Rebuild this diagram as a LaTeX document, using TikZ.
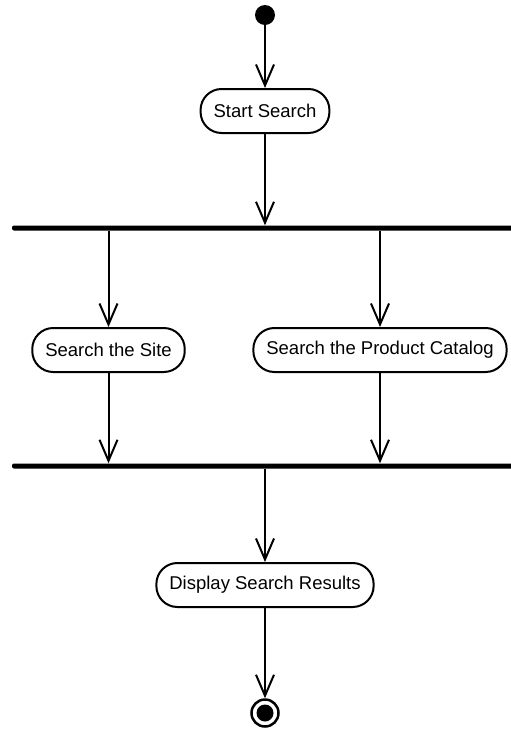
\documentclass[tikz,border=0pt]{standalone}
\usepackage{fontspec}
\setmainfont{Liberation Sans}
\usepackage{tikz}
\usetikzlibrary{arrows.meta, positioning}

\tikzset{
  activity/.style={draw, line width=2pt, rounded corners=21pt, minimum height=44pt,
    inner xsep=13pt, font=\fontsize{18.5}{22}\selectfont},
  syncbar/.style={fill=black, inner sep=0pt, minimum height=5pt, rounded corners=2pt},
  flow/.style={line width=2pt, -{Straight Barb[length=21pt, width=18pt, line width=2pt]}}
}

\begin{document}
\begin{tikzpicture}[x=1pt, y=-1pt]
  \useasboundingbox (0,0) rectangle (511,729);
  %% Initial and final states
  \node[circle, fill=black, inner sep=0pt, minimum size=20pt] (init) at (265,15) {};
  \node[circle, draw, line width=2.5pt, inner sep=0pt, minimum size=27pt,
    path picture={\fill (path picture bounding box.center) circle (8.5pt);}] (final) at (265,713) {};
  %% Activities
  \node[activity] (startsearch) at (265,111) {Start Search};
  \node[activity] (searchsite) at (108.5,350) {Search the Site};
  \node[activity] (searchcatalog) at (380,350) {Search the Product Catalog};
  \node[activity] (display) at (265,585) {Display Search Results};
  %% Fork and join bars
  \node[syncbar, minimum width=504pt] (fork) at (264,228) {};
  \node[syncbar, minimum width=504pt] (join) at (264,466) {};
  %% Control flow
  \draw[flow] (init) -- (startsearch);
  \draw[flow] (startsearch) -- (startsearch |- fork.north);
  \draw[flow] (fork.south -| searchsite) -- (searchsite);
  \draw[flow] (fork.south -| searchcatalog) -- (searchcatalog);
  \draw[flow] (searchsite) -- (searchsite |- join.north);
  \draw[flow] (searchcatalog) -- (searchcatalog |- join.north);
  \draw[flow] (join.south -| display) -- (display);
  \draw[flow] (display) -- (final);
\end{tikzpicture}
\end{document}
